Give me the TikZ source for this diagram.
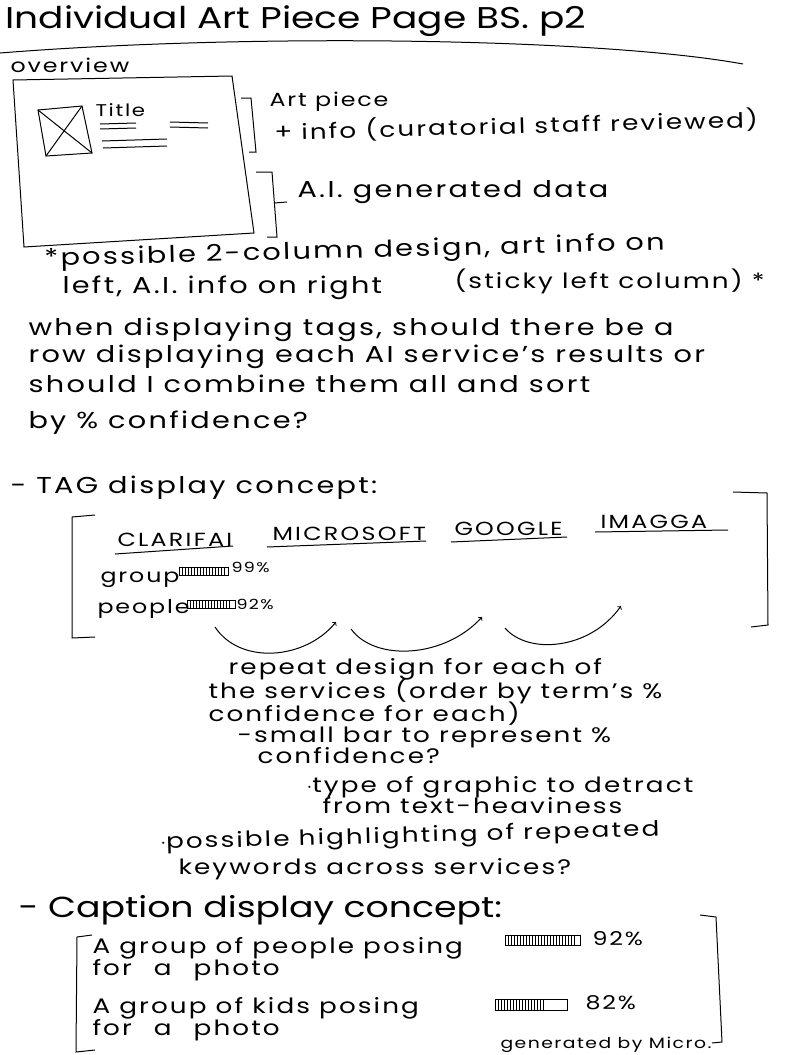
\documentclass[tikz,border=0pt]{standalone}
\usepackage{fontspec}
\setmainfont[FakeStretch=1.25, LetterSpace=10]{Poppins}
\usetikzlibrary{arrows,shapes,positioning,calc}

\begin{document}
\begin{tikzpicture}[x=1pt, y=-1pt, line width=1pt,
    hand/.style={anchor=base west, inner sep=0pt, font=\fontsize{23}{28}\selectfont},
    note/.style={hand, font=\fontsize{21}{25}\selectfont},
    bighand/.style={hand, font=\fontsize{29}{34}\selectfont\addfontfeature{LetterSpace=0}},
    midhand/.style={hand, font=\fontsize{19}{23}\selectfont},
    tiny/.style={hand, font=\fontsize{14}{16}\selectfont},
    service/.style={hand, font=\fontsize{19}{22}\selectfont\addfontfeature{LetterSpace=12}}]
    \useasboundingbox (0,0) rectangle (800,1055);

    \node[bighand, font=\fontsize{30}{34}\selectfont\addfontfeature{LetterSpace=0}] (title) at (5,28) {Individual Art Piece Page BS. p2};
    \draw (0,53) .. controls (250,33) and (600,38) .. (743,64);
    \node[midhand] (overview) at (10,72) {overview};

    % page sketch
    \draw (13,80) -- (232,76) -- (254,233) -- (24,247) -- cycle;
    \draw (38,110) -- (82,106) -- (92,153) -- (46,156) -- cycle;
    \draw (38,110) -- (92,153) (82,106) -- (46,156);
    \node[tiny, font=\fontsize{17}{20}\selectfont] (boxtitle) at (95,116) {Title};
    \draw (100,124) -- (136,123) (100,129) -- (136,128);
    \draw (170,122) -- (208,123) (170,127) -- (208,128);
    \draw (102,141) -- (167,139) (103,148) -- (167,146);

    \draw (241,98) -- (251,98) -- (256,152) -- (249,152);
    \node[midhand] (artpiece) at (269,106) {Art piece};
    \node[note, rotate=1.5] (artinfo) at (274,140) {+ info (curatorial staff reviewed)};
    \draw (256,172) -- (272,172) -- (277,237) -- (267,237);
    \draw (274,203) -- (287,202);
    \node[hand] (aidata) at (297,197) {A.I. generated data};

    \node[hand, rotate=1.5] (twocol) at (44,266) {*possible 2-column design, art info on};
    \node[hand] (twocolb) at (62,293) {left, A.I. info on right};
    \node[note] (sticky) at (454,288) {(sticky left column) *};

    \node[hand, align=left] (question) at (28,428) {
        when displaying tags, should there be a \\[-1pt]
        row displaying each AI service's results or \\[2pt]
        should I combine them all and sort \\[8pt]
        by \% confidence?
    };

    % tags
    \node[hand] (tagconcept) at (10,493) {- TAG display concept:};
    \draw (95,515) -- (72,517) -- (72,638) -- (95,637);
    \draw (733,492) -- (767,493) -- (768,625) -- (751,627);
    \node[service] (clarifai) at (117,546) {CLARIFAI};
    \node[service] (microsoft) at (272,540) {MICROSOFT};
    \node[service] (google) at (454,535) {GOOGLE};
    \node[service] (imagga) at (600,528) {IMAGGA};
    \draw (115,554) -- (233,546);
    \draw (267,547) -- (426,541);
    \draw (451,542) -- (567,537);
    \draw (595,532) -- (728,530);

    \node[midhand] (group) at (100,582) {group};
    \draw[line width=0.8pt] (179,567) rectangle (228,575);
    \foreach \i in {182,185,...,225} \draw[line width=0.6pt] (\i,567) -- (\i,575);
    \node[tiny] (groupval) at (231,572) {99\%};
    \node[midhand] (people) at (97,613) {people};
    \draw[line width=0.8pt] (187,600) rectangle (235,608);
    \foreach \i in {190,193,...,229} \draw[line width=0.6pt] (\i,600) -- (\i,608);
    \node[tiny] (peopleval) at (236,609) {92\%};

    \coordinate (ca) at (215,627);
    \coordinate (cb) at (336,622);
    \coordinate (cc) at (351,629);
    \coordinate (cd) at (482,617);
    \coordinate (ce) at (505,628);
    \coordinate (cf) at (621,606);
    \draw[->] (ca) .. controls (240,665) and (305,660) .. (cb);
    \draw[->] (cc) .. controls (375,662) and (445,658) .. (cd);
    \draw[->] (ce) .. controls (528,655) and (590,650) .. (cf);

    \node[note, align=left] (repeat) at (208,698) {
        \hspace{20pt}repeat design for each of \\[-3pt]
        the services (order by term's \%
    };
    \node[note] (repeatb) at (208,721) {confidence for each)};
    \node[note] (smallbar) at (237,742) {-small bar to represent \%};
    \node[note] (smallbarb) at (257,763) {confidence?};
    \node[note] (graphic) at (306,792) {$\cdot$type of graphic to detract};
    \node[note] (graphicb) at (322,813) {from text-heaviness};
    \node[note, rotate=1.5] (highlight) at (160,849) {$\cdot$possible highlighting of repeated};
    \node[note] (highlightb) at (178,874) {keywords across services?};

    % captions
    \node[bighand] (capconcept) at (18,917) {- Caption display concept:};
    \draw (92,935) -- (77,937) -- (76,1052) -- (95,1050);
    \draw (700,915) -- (716,917) -- (722,1042) -- (712,1043);
    \node[note, align=left] (capone) at (92,975) {
        A group of people posing \\[-3pt]
        for\hspace{22pt}a\hspace{22pt}photo
    };
    \draw[line width=0.8pt] (505,935) rectangle (580,945);
    \foreach \i in {508,511,...,575} \draw[line width=0.6pt] (\i,935) -- (\i,945);
    \node[midhand] (capval) at (592,945) {92\%};
    \node[note, align=left] (captwo) at (92,1035) {
        A group of kids posing \\[-3pt]
        for\hspace{22pt}a\hspace{22pt}photo
    };
    \draw[line width=0.8pt] (495,999) rectangle (567,1010);
    \foreach \i in {498,501,...,543} \draw[line width=0.6pt] (\i,999) -- (\i,1010);
    \node[midhand] (captwoval) at (585,1009) {82\%};
    \node[tiny, font=\fontsize{15}{18}\selectfont] (generated) at (500,1048) {generated by Micro.};
\end{tikzpicture}
\end{document}
